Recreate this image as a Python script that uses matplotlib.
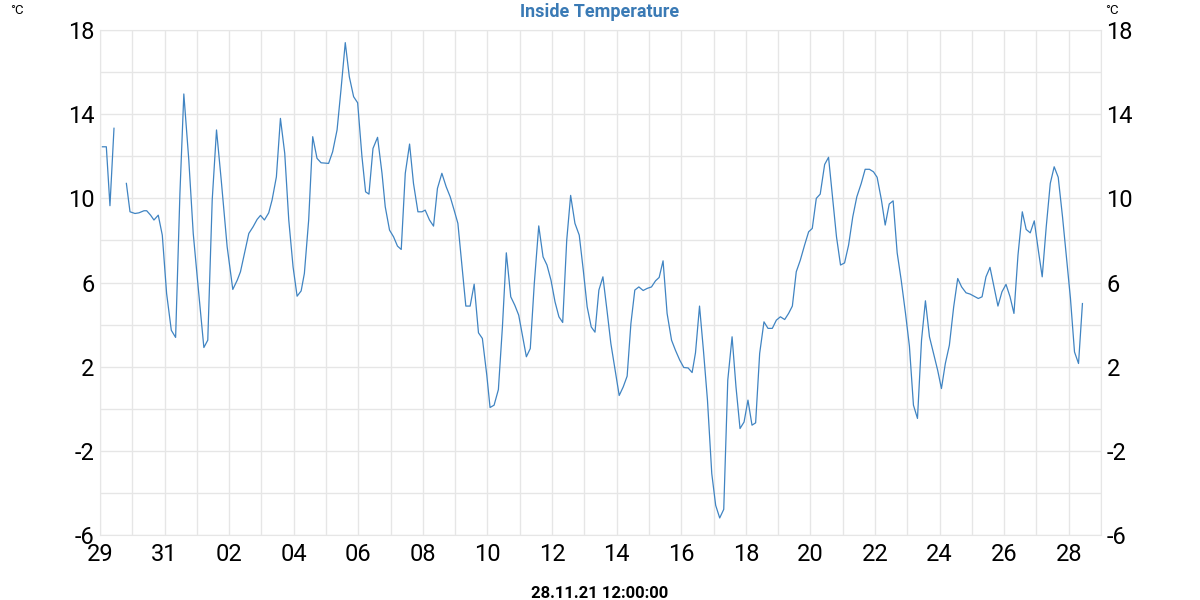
import matplotlib
matplotlib.use("Agg")
import matplotlib.pyplot as plt
import matplotlib.dates as mdates
import numpy as np
import pandas as pd

plt.rcParams['font.family'] = ['Roboto', 'DejaVu Sans']
plt.rcParams['axes.unicode_minus'] = False  # plain "-" like the original

# hours since 29.10.21 00:00 and inside temperature (°C); NaN = gap in the log
hours = [1.8, 4.7, 7.4, 10.4, 15.0,
         19.6, 22.3, 26.0, 28.9, 32.7, 34.7, 37.6, 40.1, 43.3, 46.3, 49.5, 53.0, 56.2, 59.4, 62.3,
         66.0, 69.3, 72.7, 77.2, 80.1, 83.4, 86.6, 90.1, 94.5, 98.7, 102.0, 104.4, 107.4, 110.6,
         113.8, 116.8, 119.3, 122.2, 125.4, 127.9, 131.1, 134.1, 137.3, 140.3, 143.5, 146.5, 149.5,
         151.9, 155.1, 158.1, 161.3, 164.3, 169.9, 172.9, 176.2, 179.1, 182.3, 185.3, 188.5, 191.5,
         194.7, 197.4, 199.9, 202.9, 206.3, 209.6, 212.0, 215.2, 218.2, 221.1, 223.9, 226.9, 230.1,
         233.0, 236.3, 239.3, 241.7, 244.9, 247.9, 250.8, 254.1, 257.3, 260.3, 263.2, 266.0, 271.9,
         275.1, 278.1, 281.3, 284.2, 287.5, 289.9, 292.9, 296.1, 299.1, 302.0, 305.3, 308.3, 311.2,
         314.2, 316.9, 319.8, 322.8, 326.1, 329.3, 332.2, 335.2, 338.2, 341.1, 343.9, 346.9, 349.8,
         353.0, 356.2, 359.2, 362.1, 365.1, 367.9, 370.8, 373.8, 376.8, 379.7, 382.9, 385.9, 388.9,
         391.8, 394.6, 397.5, 400.5, 403.7, 406.7, 409.9, 412.9, 415.6, 418.5, 421.5, 424.8, 427.7,
         430.9, 433.9, 437.1, 440.1, 442.6, 445.6, 448.5, 451.5, 454.7, 457.6, 460.6, 463.6, 466.6,
         469.8, 472.7, 475.7, 478.7, 481.6, 484.6, 487.3, 490.3, 493.5, 496.5, 499.7, 502.7, 505.7,
         508.9, 511.8, 514.6, 517.5, 520.5, 523.7, 526.7, 529.4, 532.4, 535.3, 538.6, 541.5, 544.7,
         547.4, 550.4, 553.4, 556.4, 559.5, 562.5, 565.8, 568.7, 571.9, 574.9, 577.6, 580.8, 583.6,
         586.6, 589.5, 592.5, 595.5, 598.7, 601.6, 604.6, 607.6, 610.6, 613.5, 616.5, 619.4, 622.6,
         625.4, 628.3, 631.3, 634.5, 637.5, 640.4, 643.7, 646.7, 649.6, 652.8, 655.6, 658.5, 661.5,
         664.5, 667.4, 670.4, 673.4, 676.4, 679.3, 682.3, 685.5, 688.4, 691.4, 694.4, 697.4, 700.3,
         703.3, 706.3, 709.2, 712.2, 715.4, 718.3, 721.3, 724.3, 727.3, 730.2]
temps = [12.45, 12.45, 9.65, 13.33, np.nan,
         10.71, 9.36, 9.28, 9.31, 9.41, 9.41, 9.20, 8.97, 9.20, 8.25, 5.48, 3.73, 3.39, 10.23, 14.96,
         11.82, 8.33, 5.96, 2.91, 3.26, 9.92, 13.25, 10.87, 7.70, 5.67, 6.11, 6.51, 7.38, 8.33,
         8.65, 9.00, 9.19, 8.97, 9.31, 9.92, 11.02, 13.80, 12.14, 8.97, 6.74, 5.35, 5.60,
         6.43, 8.97, 12.93, 11.90, 11.69, 11.66, 12.21, 13.25, 15.15, 17.40, 15.78, 14.83, 14.54,
         11.98, 10.31, 10.20, 12.37, 12.90, 11.19, 9.60, 8.49, 8.17, 7.73, 7.57, 11.19, 12.58,
         10.71, 9.36, 9.36, 9.44, 8.97, 8.68, 10.47, 11.19, 10.55, 10.07, 9.44, 8.81, 4.88,
         4.88, 5.92, 3.61, 3.34, 1.59, 0.06, 0.17, 0.91, 3.89, 7.41, 5.32, 4.92, 4.45,
         3.42, 2.47, 2.86, 5.96, 8.69, 7.22, 6.83, 6.11, 5.08, 4.37, 4.10, 8.01, 10.14,
         8.81, 8.25, 6.59, 4.84, 3.89, 3.64, 5.64, 6.27, 4.69, 3.10, 1.83, 0.63, 1.04,
         1.55, 4.05, 5.64, 5.79, 5.62, 5.72, 5.79, 6.08, 6.24, 7.03, 4.53, 3.26, 2.78,
         2.31, 1.96, 1.94, 1.72, 2.66, 4.88, 2.78, 0.41, -3.08, -4.59, -5.19, -4.78, 1.36,
         3.42, 1.04, -0.94, -0.63, 0.41, -0.78, -0.67, 2.63, 4.13, 3.82, 3.82, 4.21, 4.37,
         4.24, 4.53, 4.88, 6.51, 7.06, 7.78, 8.41, 8.57, 10.00, 10.20, 11.61, 11.95, 9.92,
         8.17, 6.83, 6.93, 7.78, 9.12, 10.07, 10.71, 11.38, 11.38, 11.26, 11.00, 9.92, 8.73,
         9.73, 9.88, 7.41, 6.11, 4.53, 2.97, 0.17, -0.46, 3.26, 5.13, 3.42, 2.66, 1.83,
         0.96, 2.15, 3.02, 4.84, 6.19, 5.79, 5.51, 5.45, 5.35, 5.24, 5.32, 6.27, 6.72,
         5.79, 4.88, 5.56, 5.91, 5.32, 4.53, 7.30, 9.36, 8.52, 8.36, 8.93, 7.54, 6.27,
         8.65, 10.71, 11.50, 11.00, 9.12, 7.22, 5.24, 2.70, 2.15, 5.00]

start = pd.Timestamp('2021-10-29')
end = pd.Timestamp('2021-11-29')
times = start + pd.to_timedelta(hours, unit='h')

grid_col = '#e6e6e6'
line_col = '#4084c2'

fig = plt.figure(figsize=(12, 6), dpi=100)
ax = fig.add_axes([100/1200, 1 - 535/600, 1001/1200, 505/600])

ax.plot(times, temps, color=line_col, lw=0.9)

ax.set_xlim(start, end)
ax.set_ylim(-6, 18)
ax.set_yticks(np.arange(-6, 19, 4))
ax.set_yticks(np.arange(-6, 19, 2), minor=True)
ax.set_xticks(pd.date_range('2021-10-29', '2021-11-28', freq='2D'))
ax.set_xticks(pd.date_range('2021-10-29', '2021-11-29', freq='D'), minor=True)
ax.xaxis.set_major_formatter(mdates.DateFormatter('%d'))

ax.grid(True, which='both', color=grid_col, lw=1.0)
ax.set_axisbelow(True)
for s in ax.spines.values():
    s.set_color(grid_col)

ax.tick_params(axis='both', which='both', length=0, labelsize=17, colors='black')
ax.tick_params(axis='y', labelright=True, pad=4)
ax.tick_params(axis='x', pad=6)

fig.text(600/1200, 1 - 12/600, 'Inside Temperature', ha='center', va='center',
         fontsize=13, fontweight='bold', color='#3a7ab5')
fig.text(10/1200, 1 - 10/600, '°C', ha='left', va='center', fontsize=9.5)
fig.text(1105/1200, 1 - 10/600, '°C', ha='left', va='center', fontsize=9.5)
fig.text(600/1200, 1 - 593/600, '28.11.21 12:00:00', ha='center', va='center',
         fontsize=12, fontweight='bold')

fig.savefig('out.png', dpi=100)
